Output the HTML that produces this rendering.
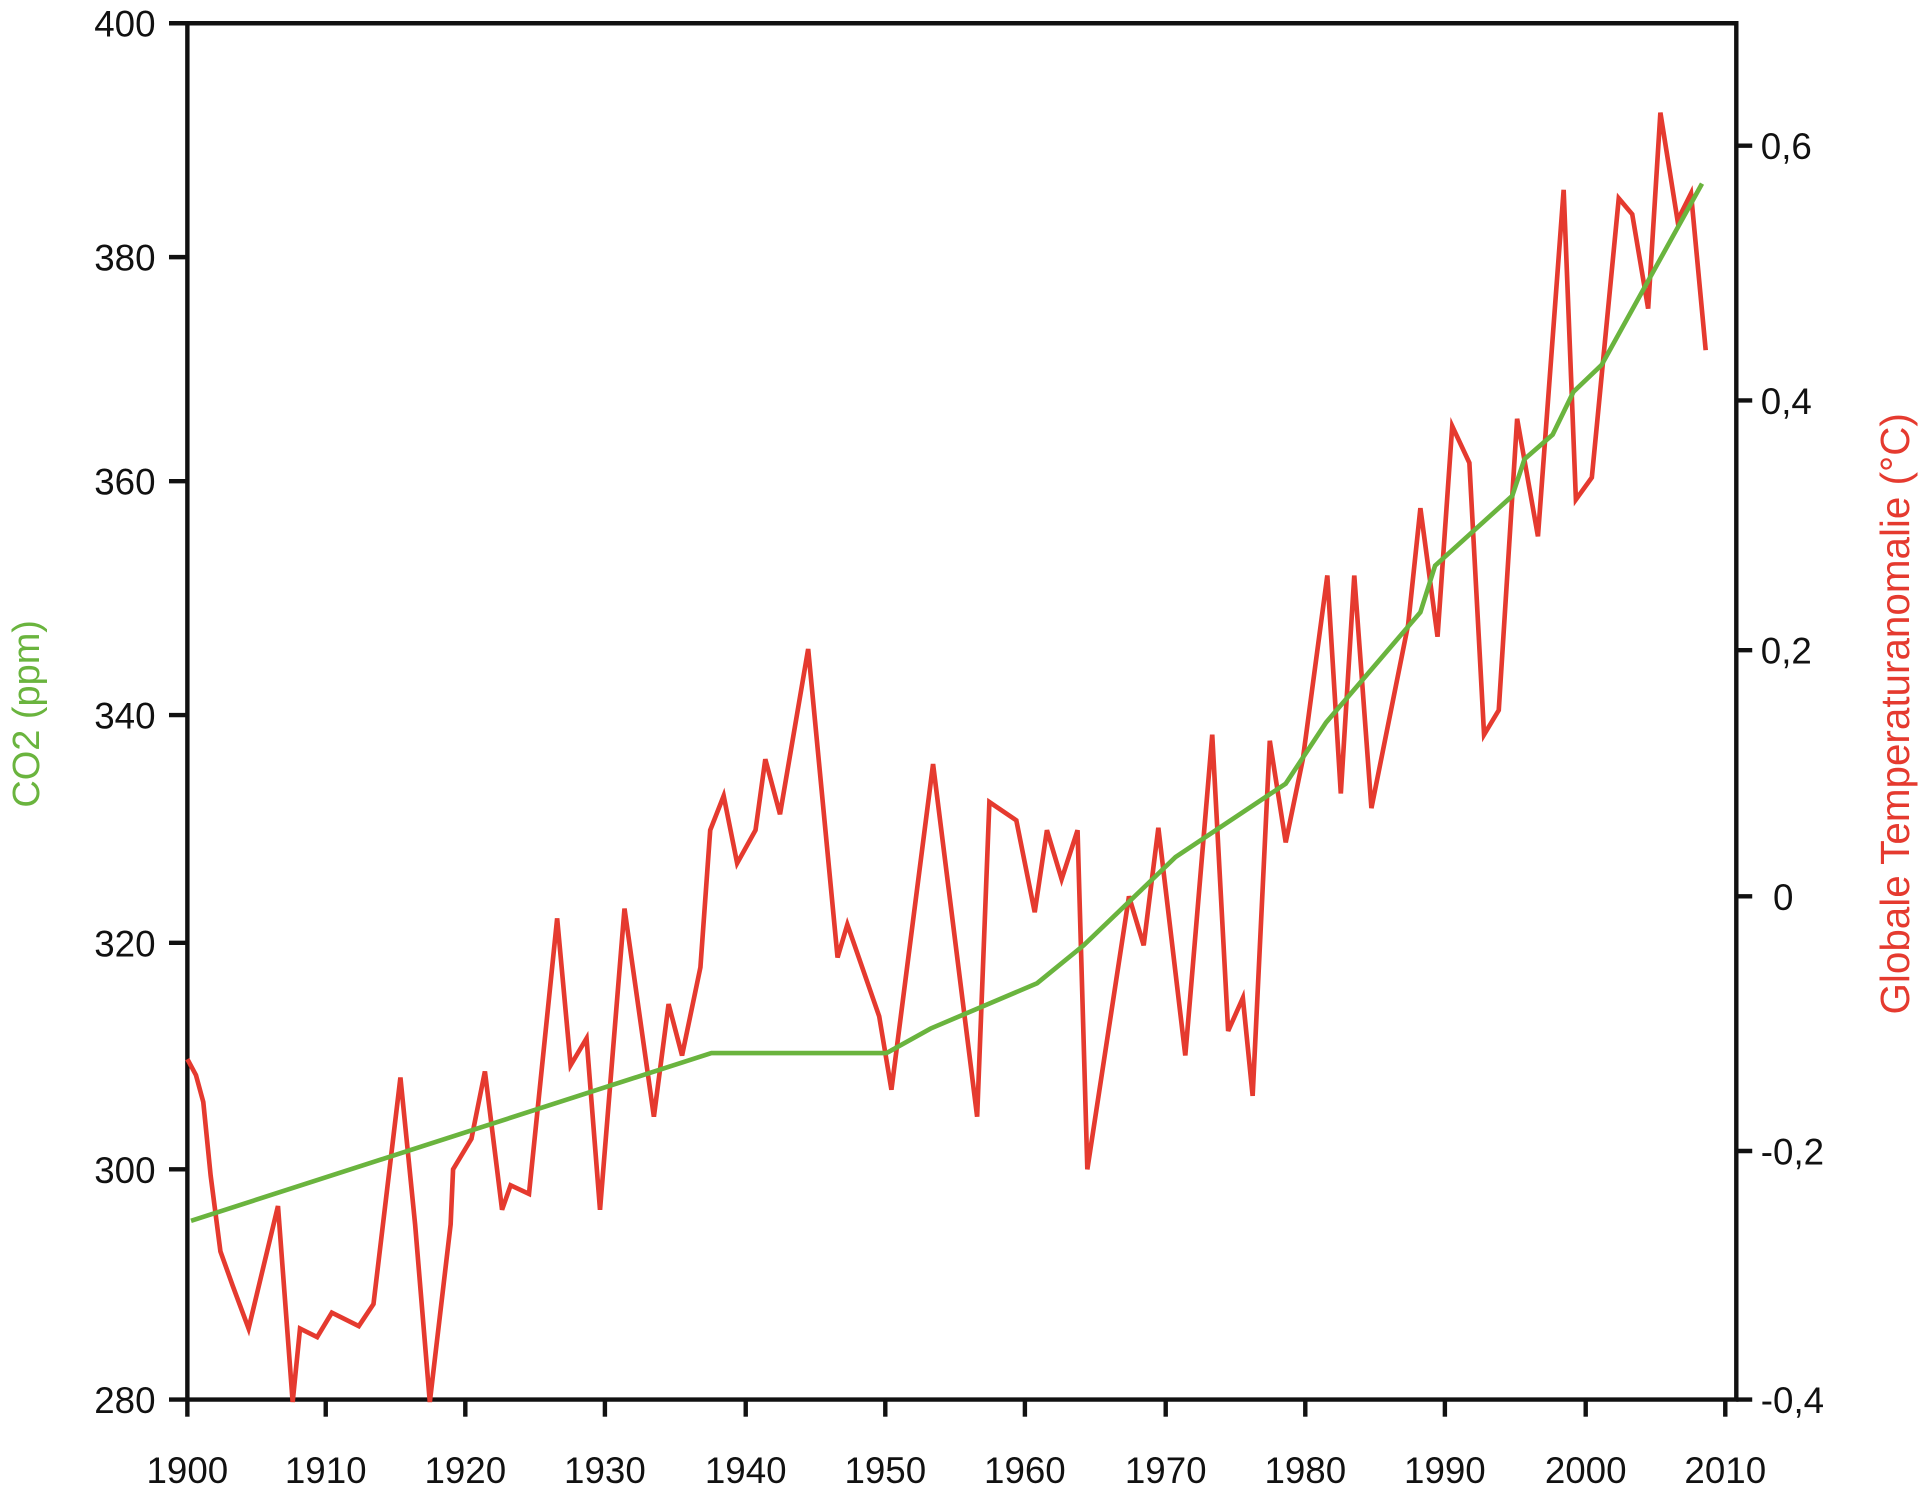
<!DOCTYPE html>
<html><head><meta charset="utf-8"><style>
html,body{margin:0;padding:0;background:#fff;}
svg{display:block;}
text{font-family:"Liberation Sans",sans-serif;}
</style></head><body>
<svg width="1920" height="1492" viewBox="0 0 1568 1218.5" xmlns="http://www.w3.org/2000/svg">
<rect width="1568" height="1218.5" fill="#fff"/>
<g stroke="#111" stroke-width="3.6" fill="none">
<polyline points="153,1143 153,19 1418,19 1418,1143 138,1143"/>
<line x1="138" y1="19" x2="153" y2="19"/>
<line x1="138" y1="210" x2="153" y2="210"/>
<line x1="138" y1="393" x2="153" y2="393"/>
<line x1="138" y1="584" x2="153" y2="584"/>
<line x1="138" y1="770" x2="153" y2="770"/>
<line x1="138" y1="955" x2="153" y2="955"/>
<line x1="1418" y1="119" x2="1431" y2="119"/>
<line x1="1418" y1="327" x2="1431" y2="327"/>
<line x1="1418" y1="531" x2="1431" y2="531"/>
<line x1="1418" y1="732" x2="1431" y2="732"/>
<line x1="1418" y1="940" x2="1431" y2="940"/>
<line x1="1418" y1="1143" x2="1431" y2="1143"/>
<line x1="153" y1="1143" x2="153" y2="1157"/>
<line x1="266" y1="1143" x2="266" y2="1157"/>
<line x1="380" y1="1143" x2="380" y2="1157"/>
<line x1="494" y1="1143" x2="494" y2="1157"/>
<line x1="609" y1="1143" x2="609" y2="1157"/>
<line x1="723" y1="1143" x2="723" y2="1157"/>
<line x1="837" y1="1143" x2="837" y2="1157"/>
<line x1="952" y1="1143" x2="952" y2="1157"/>
<line x1="1066" y1="1143" x2="1066" y2="1157"/>
<line x1="1180" y1="1143" x2="1180" y2="1157"/>
<line x1="1295" y1="1143" x2="1295" y2="1157"/>
<line x1="1409" y1="1143" x2="1409" y2="1157"/>
</g>
<g font-size="30" fill="#111" text-anchor="end">
<text x="127" y="30">400</text>
<text x="127" y="221">380</text>
<text x="127" y="404">360</text>
<text x="127" y="595">340</text>
<text x="127" y="781">320</text>
<text x="127" y="966">300</text>
<text x="127" y="1154">280</text>
</g>
<g font-size="30" fill="#111" text-anchor="start">
<text x="1438" y="130">0,6</text>
<text x="1438" y="338">0,4</text>
<text x="1438" y="542">0,2</text>
<text x="1448" y="743">0</text>
<text x="1438" y="951">-0,2</text>
<text x="1438" y="1154">-0,4</text>
</g>
<g font-size="30" fill="#111" text-anchor="middle">
<text x="153" y="1211">1900</text><text x="266" y="1211">1910</text><text x="380" y="1211">1920</text>
<text x="494" y="1211">1930</text><text x="609" y="1211">1940</text><text x="723" y="1211">1950</text>
<text x="837" y="1211">1960</text><text x="952" y="1211">1970</text><text x="1066" y="1211">1980</text>
<text x="1180" y="1211">1990</text><text x="1295" y="1211">2000</text><text x="1409" y="1211">2010</text>
</g>
<text transform="translate(32,583) rotate(-90)" font-size="31" fill="#6ab43e" text-anchor="middle">CO2 (ppm)</text>
<text transform="translate(1559,583) rotate(-90)" font-size="33" fill="#e53a2f" text-anchor="middle">Globale Temperaturanomalie (°C)</text>
<polyline fill="none" stroke="#e53a2f" stroke-width="3.8" stroke-linejoin="miter" points="153,865 160,878 166,900 172,960 180,1022 190,1050 203,1085 215,1035 227,985 239,1145 245,1085 259,1092 271,1072 293,1083 305,1065 327,880 339,1000 351,1145 368,1000 370,955 385,930 396,875 410,988 417,968 432,975 455,750 466,870 479,848 490,988 510,742 534,912 546,820 557,862 572,790 580,678 591,650 602,705 617,678 625,620 637,665 660,530 684,782 692,755 718,830 728,890 762,624 798,912 808,655 830,670 845,745 855,678 867,718 880,678 888,955 922,732 934,772 946,676 968,862 990,600 1003,842 1015,815 1023,895 1037,605 1050,688 1064,620 1084,470 1095,648 1106,470 1120,660 1150,510 1160,415 1174,520 1186,348 1200,378 1212,600 1224,580 1239,342 1256,438 1277,155 1287,408 1300,390 1322,162 1333,175 1346,252 1356,92 1370,180 1381,158 1393,286"/>
<polyline fill="none" stroke="#6ab43e" stroke-width="3.8" points="156,997 581,860 724,860 760,840 847,803 885,772 960,700 1050,640 1083,590 1160,500 1172,462 1235,405 1245,375 1268,355 1285,320 1308,298 1390,150"/>
</svg>
</body></html>
